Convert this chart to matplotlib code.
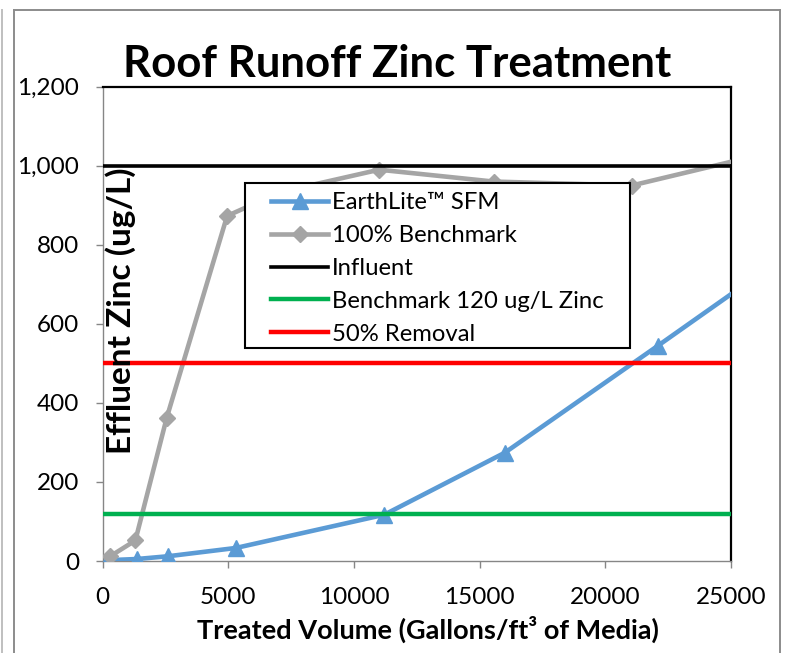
import matplotlib
matplotlib.use("Agg")
import matplotlib.pyplot as plt
from matplotlib.lines import Line2D
from matplotlib.patches import Rectangle
from matplotlib.ticker import FuncFormatter

plt.rcParams['font.family'] = ['Lato', 'DejaVu Sans']

# Data
earthlite_x = [200, 1350, 2600, 5300, 11200, 16000, 22100, 25000]
earthlite_y = [2, 5, 12, 33, 117, 274, 545, 675]
bench_x = [300, 1300, 2550, 4950, 7050, 11000, 15550, 21050, 25000]
bench_y = [12, 52, 363, 873, 933, 990, 960, 950, 1010]
influent = 1000
benchmark_120 = 120
removal_50 = 500
series_names = ["EarthLite\u2122 SFM", "100% Benchmark", "Influent",
                "Benchmark 120 ug/L Zinc", "50% Removal"]
x_ticks = [0, 5000, 10000, 15000, 20000, 25000]
y_ticks = [0, 200, 400, 600, 800, 1000, 1200]

W, H = 785, 653
fig = plt.figure(figsize=(W / 100, H / 100), dpi=100)
ax = fig.add_axes([102.7 / W, 1 - 561 / H, (731 - 102.7) / W, (561 - 86.7) / H])

h1, = ax.plot(earthlite_x, earthlite_y, color='#5B9BD5', lw=3.3, marker='^',
              markersize=12, markevery=list(range(len(earthlite_x) - 1)), zorder=3)
h2, = ax.plot(bench_x, bench_y, color='#A5A5A5', lw=3.3, marker='D',
              markersize=8.5, markevery=list(range(len(bench_x) - 1)), zorder=4)
h3 = ax.axhline(influent, color='black', lw=2.6, zorder=5)
h4 = ax.axhline(benchmark_120, color='#00B050', lw=3.2, zorder=5)
h5 = ax.axhline(removal_50, color='#FF0000', lw=3.2, zorder=5)

ax.set_xlim(0, 25000)
ax.set_ylim(0, 1200)
ax.set_xticks(x_ticks)
ax.set_yticks(y_ticks)
ax.yaxis.set_major_formatter(FuncFormatter(lambda v, p: f"{int(v):,}"))
ax.xaxis.set_major_formatter(FuncFormatter(lambda v, p: f"{int(v)}"))
ax.tick_params(axis='both', direction='out', length=5, color='#868686',
               labelsize=17.5, width=1)
ax.tick_params(axis='y', pad=12)
ax.tick_params(axis='x', pad=14)
for s in ['left', 'bottom']:
    ax.spines[s].set_color('#868686')
    ax.spines[s].set_linewidth(1.0)
for s in ['top', 'right']:
    ax.spines[s].set_color('black')
    ax.spines[s].set_linewidth(1.6)

# legend box
fig.add_artist(Rectangle((245 / W, 1 - 348 / H), (630 - 245) / W, (348 - 183) / H,
                         transform=fig.transFigure, facecolor='white',
                         edgecolor='black', lw=1.5, zorder=6))
leg = fig.legend([h1, h2, h3, h4, h5], series_names, loc='upper left',
                 bbox_to_anchor=(271 / W, 1 - 192 / H), fontsize=17.2,
                 handlelength=2.4, handletextpad=0.15, labelspacing=0.5,
                 borderpad=0, borderaxespad=0, frameon=False)
leg.set_zorder(7)

fig.text(397 / W, 1 - 77 / H, "Roof Runoff Zinc Treatment", fontsize=31.5,
         fontweight='bold', ha='center', va='baseline')
fig.text(428 / W, 1 - 629 / H, "Treated Volume (Gallons/ft\u00b3 of Media)",
         fontsize=19.5, fontweight='bold', ha='center', va='center')
fig.text(121 / W, 1 - 311 / H, "Effluent Zinc (ug/L)", fontsize=24,
         fontweight='bold', ha='center', va='center', rotation=90, zorder=20)

# outer frame
def fl(x0, y0, x1, y1, c, lw):
    fig.add_artist(Line2D([x0 / W, x1 / W], [1 - y0 / H, 1 - y1 / H],
                          color=c, lw=lw, transform=fig.transFigure))

fl(13.5, 10, 13.5, 653, '#8C8C8C', 1.4)
fl(13.5, 10, 780, 10, '#8C8C8C', 1.4)
fl(780, 10, 780, 653, '#8C8C8C', 1.4)
fl(1.5, 10, 1.5, 653, '#BFBFBF', 1.4)

fig.savefig("out.png", dpi=100)
